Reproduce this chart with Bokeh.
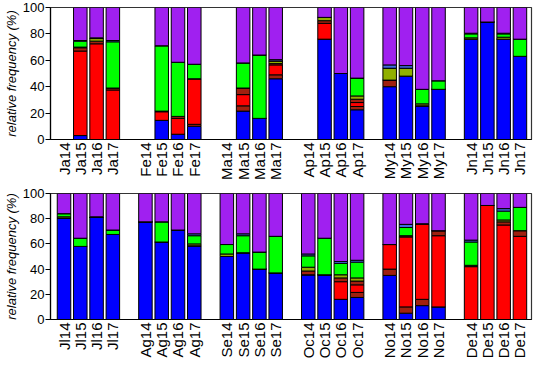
from math import pi
from bokeh.plotting import figure
from bokeh.layouts import column
from bokeh.models import ColumnDataSource, FixedTicker, Range1d
from bokeh.embed import file_html
from bokeh.resources import INLINE

months = ["Ja", "Fe", "Ma", "Ap", "My", "Jn", "Jl", "Ag", "Se", "Oc", "No", "De"]
years = ["14", "15", "16", "17"]

# values per bar, order Ja14..Ja17, Fe14..Fe17, ... De14..De17 (relative frequency, %)
blue = [0, 3, 0, 0,   0, 14.5, 4, 10,   0, 21.5, 16, 46,   0, 76, 50, 22.5,
        40, 48, 25.5, 38,   76, 89, 76, 63,
        80.5, 58, 81, 67.5,   77.5, 61.5, 71, 58.5,   50, 53, 40, 37,   35.5, 35.5, 16, 17.5,
        35, 5, 11, 10,   0, 0, 0, 0]
darkred = [0, 0, 0, 0,   0, 0, 0, 1.5,   0, 4, 0, 3,   0, 0, 0, 2.5,
           5, 0, 0, 0,   0, 0, 0, 0,
           0, 0, 0, 0,   0, 0, 0, 0,   0, 0, 0, 0,   0, 0, 0, 4,
           5, 5, 5, 0,   0, 0, 0, 0]
red = [0, 64, 72.5, 37.5,   0, 6.5, 12, 34.5,   0, 8.5, 0, 7.5,   0, 12, 0, 3,
       0, 0, 0, 0,   0, 0, 0, 0,
       0, 0, 0, 0,   0, 0, 0, 0,   0, 0, 0, 0,   0, 0, 14, 6,
       19.5, 55.5, 60, 56.5,   42, 90.5, 75, 66]
brown = [0, 2.5, 2, 1.5,   0, 0.5, 1.5, 0,   0, 5, 0, 1,   0, 2, 0, 2.5,
         0, 0, 0, 0,   0, 0, 0, 0,
         0, 0, 0, 0,   0, 0, 0, 0,   0, 0, 0, 0,   3, 0, 3, 3,
         0, 1, 0, 4,   0, 0, 2.5, 4.5]
olive = [0, 0.5, 2, 0,   0, 0, 0, 0,   0, 0, 0, 2,   0, 2.5, 0, 2.5,
         9, 6, 1.5, 0,   1, 0, 1.5, 0,
         1, 0, 0, 0,   0, 0, 0, 1.5,   2, 0, 0, 0,   3, 0, 2.5, 2.5,
         0, 0, 0, 0,   1, 0, 1.5, 0]
green = [0, 4.5, 0, 35,   0, 49.5, 41, 11,   0, 19, 48, 0,   0, 0, 0, 13.5,
         0, 0, 11, 6.5,   3, 0, 2.5, 13,
         2.5, 6.5, 0, 3.5,   0, 16, 0, 6.5,   7.5, 13.5, 13.5, 29,   9, 29, 9, 12.5,
         0, 6.5, 0, 0,   18.5, 0, 7, 18.5]
lightblue = [0, 0.5, 0.5, 1,   0, 0, 0, 0,   0, 0, 0, 1,   0, 0, 0, 0,
             2.5, 2, 0, 0,   0.5, 0, 0.5, 0,
             0, 0, 0.5, 0,   0, 0, 0, 1.5,   0, 1.5, 0, 0,   1.5, 0, 1.5, 1.5,
             0, 2.5, 0, 0,   1.5, 0, 2, 0]
purple = [0, 25, 23, 25,   0, 29, 41.5, 43,   0, 42, 36, 39.5,   0, 7.5, 50, 53.5,
          43.5, 44, 62, 55.5,   19.5, 11, 19.5, 24,
          16, 35.5, 18.5, 29,   22.5, 22.5, 29, 32,   40.5, 32, 46.5, 34,   48, 35.5, 54, 53,
          40.5, 24.5, 24, 29.5,   37, 9.5, 12, 11]

layers = ["blue", "darkred", "red", "brown", "olive", "green", "lightblue", "purple"]
series = [blue, darkred, red, brown, olive, green, lightblue, purple]
colors = ["#0000FF", "#A0200F", "#FF0000", "#A0200F", "#90B000", "#00FF00", "#4169E1", "#A020F0"]

FONT = "Liberation Sans"


def panel(month_sub, start, height, top_border, bottom_border):
    xs, labels = [], []
    for mi, m in enumerate(month_sub):
        for yi, y in enumerate(years):
            xs.append(mi * 5 + yi)
            labels.append(m + y)
    data = {"x": xs}
    for name, arr in zip(layers, series):
        data[name] = arr[start:start + 24]
    src = ColumnDataSource(data)
    p = figure(width=534, height=height, x_range=Range1d(-0.83, 28.71), y_range=Range1d(0, 100),
               output_backend="svg", toolbar_location=None,
               min_border_left=39, min_border_right=3, min_border_top=top_border,
               min_border_bottom=bottom_border)
    p.vbar_stack(layers, x="x", width=0.83, fill_color=colors, line_color="black",
                 line_width=1, source=src)
    p.xgrid.visible = False
    p.ygrid.visible = False
    p.outline_line_color = "#333333"
    p.outline_line_width = 1.2

    xa = p.xaxis[0]
    xa.ticker = FixedTicker(ticks=xs)
    xa.major_label_overrides = {x: l for x, l in zip(xs, labels)}
    xa.major_label_orientation = pi / 2
    xa.major_tick_out = 0
    xa.major_tick_in = 0
    xa.minor_tick_line_color = None
    xa.major_label_standoff = 3
    xa.major_label_text_font = FONT
    xa.major_label_text_font_size = "15px"
    xa.major_label_text_color = "black"
    xa.axis_line_color = "black"
    xa.axis_line_width = 1.2

    ya = p.yaxis[0]
    ya.ticker = FixedTicker(ticks=[0, 20, 40, 60, 80, 100])
    ya.axis_label = "relative frequency (%)"
    ya.axis_label_text_font = FONT
    ya.axis_label_text_font_style = "italic"
    ya.axis_label_text_font_size = "13px"
    ya.axis_label_text_color = "black"
    ya.axis_label_standoff = 1
    ya.major_label_text_font = FONT
    ya.major_label_text_font_size = "13px"
    ya.major_label_text_color = "black"
    ya.major_label_standoff = 1
    ya.major_tick_out = 5
    ya.major_tick_in = 0
    ya.minor_tick_line_color = None
    ya.axis_line_color = "black"
    ya.axis_line_width = 1.2
    ya.major_tick_line_width = 1.2
    return p


p1 = panel(months[:6], 0, 184, 7, 45)
p2 = panel(months[6:], 24, 177, 9, 37)
layout = column(p1, p2, spacing=0)

open("out.html", "w").write(file_html(layout, INLINE))
